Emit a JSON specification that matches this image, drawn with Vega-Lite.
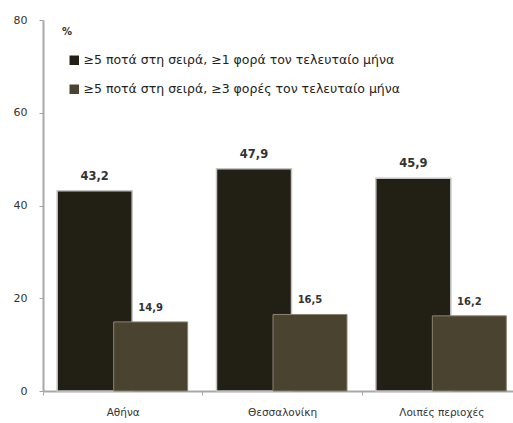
{
  "$schema": "https://vega.github.io/schema/vega-lite/v6.json",
  "width": 470,
  "height": 371,
  "autosize": {"type": "none"},
  "padding": {"left": 43, "top": 20, "right": 0, "bottom": 32},
  "config": {
    "view": {"stroke": null},
    "font": "DejaVu Sans",
    "locale": {"number": {"decimal": ",", "thousands": ".", "grouping": [3], "currency": ["", " €"]}}
  },
  "data": {
    "values": [
      {"region": "Αθήνα", "series": "≥5 ποτά στη σειρά, ≥1 φορά τον τελευταίο μήνα", "value": 43.2},
      {"region": "Αθήνα", "series": "≥5 ποτά στη σειρά, ≥3 φορές τον τελευταίο μήνα", "value": 14.9},
      {"region": "Θεσσαλονίκη", "series": "≥5 ποτά στη σειρά, ≥1 φορά τον τελευταίο μήνα", "value": 47.9},
      {"region": "Θεσσαλονίκη", "series": "≥5 ποτά στη σειρά, ≥3 φορές τον τελευταίο μήνα", "value": 16.5},
      {"region": "Λοιπές περιοχές", "series": "≥5 ποτά στη σειρά, ≥1 φορά τον τελευταίο μήνα", "value": 45.9},
      {"region": "Λοιπές περιοχές", "series": "≥5 ποτά στη σειρά, ≥3 φορές τον τελευταίο μήνα", "value": 16.2}
    ]
  },
  "encoding": {
    "x": {
      "field": "region", "type": "nominal",
      "sort": ["Αθήνα", "Θεσσαλονίκη", "Λοιπές περιοχές"],
      "scale": {"range": [0, 478], "paddingInner": 0, "paddingOuter": 0},
      "axis": {"title": null, "labelAngle": 0, "tickBand": "extent", "tickSize": 4, "tickColor": "#a8a8a8", "domainColor": "#a8a8a8", "domainWidth": 2, "labelPadding": 12, "labelFontSize": 10.5, "labelColor": "#333"}
    },
    "y": {
      "field": "value", "type": "quantitative",
      "scale": {"domain": [0, 80]},
      "axis": {"title": null, "grid": false, "values": [0, 20, 40, 60, 80], "tickSize": 4, "tickColor": "#a8a8a8", "domainColor": "#a8a8a8", "domainWidth": 2, "labelPadding": 12, "labelFontSize": 11, "labelColor": "#333"}
    }
  },
  "layer": [
    {
      "transform": [{"filter": "indexof(datum.series, '≥1') >= 0"}],
      "mark": {"type": "bar", "xOffset": -28, "width": 75, "stroke": "#c4c4c4", "strokeWidth": 1.5},
      "encoding": {
        "color": {
          "field": "series", "type": "nominal",
          "scale": {"domain": ["≥5 ποτά στη σειρά, ≥1 φορά τον τελευταίο μήνα", "≥5 ποτά στη σειρά, ≥3 φορές τον τελευταίο μήνα"], "range": ["#221f15", "#4a4330"]},
          "legend": {"title": "%", "orient": "none", "legendX": 19, "legendY": 7, "symbolType": "square", "symbolSize": 90, "symbolStrokeWidth": 0, "symbolOffset": 6, "labelOffset": 3, "labelFontSize": 12.5, "labelColor": "#222", "titleFontSize": 10, "titleColor": "#333", "titlePadding": 17, "rowPadding": 16, "labelLimit": 500}
        }
      }
    },
    {
      "transform": [{"filter": "indexof(datum.series, '≥3') >= 0"}],
      "mark": {"type": "bar", "xOffset": 28, "width": 74, "stroke": "#8a8470", "strokeWidth": 1},
      "encoding": {
        "color": {"field": "series", "type": "nominal"}
      }
    },
    {
      "transform": [{"filter": "indexof(datum.series, '≥1') >= 0"}],
      "mark": {"type": "text", "xOffset": -28, "dy": -14, "fontSize": 11.5, "fontWeight": "bold", "color": "#333"},
      "encoding": {"text": {"field": "value", "type": "quantitative", "format": ".1f"}}
    },
    {
      "transform": [{"filter": "indexof(datum.series, '≥3') >= 0"}],
      "mark": {"type": "text", "xOffset": 28, "dy": -14, "fontSize": 10, "fontWeight": "bold", "color": "#333"},
      "encoding": {"text": {"field": "value", "type": "quantitative", "format": ".1f"}}
    }
  ]
}
